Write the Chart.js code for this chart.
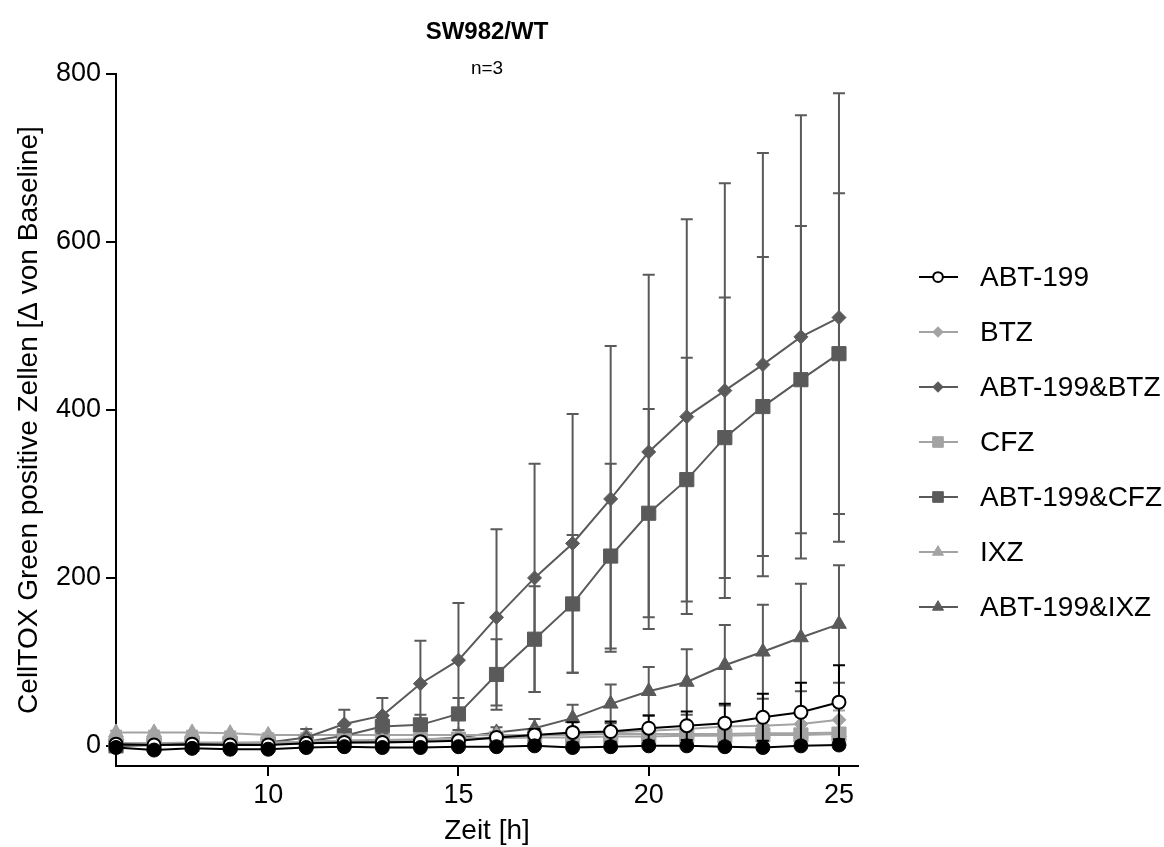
<!DOCTYPE html>
<html>
<head>
<meta charset="utf-8">
<script src="https://cdn.jsdelivr.net/npm/chart.js@4"></script>
<style>
  html, body { margin: 0; padding: 0; background: #fff; }
  #wrap { width: 1164px; height: 847px; }
</style>
</head>
<body>
<div id="wrap"><canvas id="zellenCanvas" width="1164" height="847"></canvas></div>
<script>
// Zeitpunkte [h]
var zeit = [6, 7, 8, 9, 10, 11, 12, 13, 14, 15, 16, 17, 18, 19, 20, 21, 22, 23, 24, 25];

// Mittelwerte je Behandlung
var kontrolle   = [-2, -5, -3, -4, -4, -2, -1, -2, -2, -1, -1, 0, -2, -1, 0, 0, -1, -2, 0, 1];
var abt199      = [2, 1, 2, 1, 1, 3, 4, 4, 5, 6, 10, 13, 16, 17, 21, 24, 27, 34, 40, 52];
var btz         = [3, 3, 4, 4, 4, 5, 6, 7, 8, 9, 10, 12, 14, 16, 18, 20, 23, 24, 26, 31];
var abt199Btz   = [0, 2, 3, 3, 4, 10, 26, 36, 74, 102, 153, 200, 241, 294, 350, 392, 423, 454, 487, 510];
var cfz         = [3, 3, 3, 3, 3, 5, 6, 7, 7, 8, 9, 10, 10, 11, 11, 12, 12, 13, 13, 14];
var abt199Cfz   = [0, 1, 2, 2, 2, 5, 12, 23, 25, 38, 85, 127, 169, 226, 277, 317, 367, 404, 436, 467];
var ixz         = [16, 16, 16, 15, 13, 13, 13, 13, 13, 13, 13, 13, 13, 14, 14, 14, 14, 15, 15, 16];
var abt199Ixz   = [0, 1, 1, 2, 2, 3, 4, 5, 7, 10, 16, 21, 33, 50, 65, 76, 96, 112, 129, 145];

// Standardabweichungen
var kontrolleSd = [1, 1, 1, 1, 1, 1, 1, 1, 1, 1, 1, 1, 1, 1, 1, 1, 1, 1, 1, 1];
var abt199Sd    = [1, 1, 1, 1, 1, 2, 2, 2, 3, 3, 5, 7, 12, 12, 15, 17, 23, 28, 35, 44];
var btzSd       = [1, 1, 1, 1, 1, 1, 2, 2, 2, 2, 3, 3, 4, 4, 5, 6, 7, 8, 9, 11];
var abt199BtzSd = [2, 2, 2, 3, 3, 10, 17, 21, 51, 68, 105, 136, 154, 182, 211, 235, 247, 252, 264, 267];
var cfzSd       = [1, 1, 1, 1, 1, 1, 2, 2, 2, 2, 2, 3, 3, 3, 3, 3, 3, 4, 4, 4];
var abt199CfzSd = [2, 2, 2, 2, 2, 4, 6, 10, 12, 19, 42, 63, 82, 110, 124, 145, 167, 178, 183, 191];
var ixzSd       = [2, 2, 2, 2, 2, 2, 2, 2, 2, 2, 2, 2, 2, 2, 2, 2, 2, 2, 2, 2];
var abt199IxzSd = [1, 1, 1, 1, 1, 2, 2, 2, 3, 4, 6, 11, 16, 23, 29, 39, 48, 56, 64, 70];

var xTicks = [10, 15, 20, 25];
var yTicks = [0, 200, 400, 600, 800];

var dunkel = '#5a5a5a';
var hell = '#a3a3a3';
var schrift = '"Liberation Sans", Arial, Helvetica, sans-serif';

function punkte(werte) {
	return werte.map(function (v, i) { return { x: zeit[i], y: v }; });
}

function serie(label, werte, sd, farbe, stil, radius, fuellung, legende) {
	return {
		label: label,
		data: punkte(werte),
		sd: sd,
		legende: legende,
		borderColor: farbe,
		backgroundColor: fuellung || farbe,
		pointBackgroundColor: fuellung || farbe,
		pointBorderColor: farbe,
		pointBorderWidth: fuellung ? 2 : 1,
		pointStyle: stil,
		pointRadius: radius,
		pointHoverRadius: radius,
		borderWidth: 2,
		tension: 0,
		fill: false,
		clip: false,
	};
}

var dataSets = [
	serie('Kontrolle', kontrolle, kontrolleSd, '#000', 'circle', 7, null, false),
	serie('ABT-199', abt199, abt199Sd, '#000', 'circle', 6.5, '#fff', true),
	serie('BTZ', btz, btzSd, hell, 'rectRot', 7, null, true),
	serie('ABT-199&BTZ', abt199Btz, abt199BtzSd, dunkel, 'rectRot', 7, null, true),
	serie('CFZ', cfz, cfzSd, hell, 'rect', 10, null, true),
	serie('ABT-199&CFZ', abt199Cfz, abt199CfzSd, dunkel, 'rect', 10, null, true),
	serie('IXZ', ixz, ixzSd, hell, 'triangle', 8.5, null, true),
	serie('ABT-199&IXZ', abt199Ixz, abt199IxzSd, dunkel, 'triangle', 8.5, null, true),
];

// Fehlerbalken (SD) unter den Markern der jeweiligen Serie
var fehlerbalken = {
	id: 'fehlerbalken',
	beforeDatasetDraw: function (chart, args) {
		var ds = chart.data.datasets[args.index];
		var ctx = chart.ctx;
		var xs = chart.scales.x, ys = chart.scales.y;
		ctx.save();
		ctx.strokeStyle = ds.borderColor;
		ctx.lineWidth = 2;
		ds.data.forEach(function (p, i) {
			var s = ds.sd[i];
			var px = xs.getPixelForValue(p.x);
			var top = ys.getPixelForValue(p.y + s);
			var bot = ys.getPixelForValue(p.y - s);
			ctx.beginPath();
			ctx.moveTo(px, top); ctx.lineTo(px, bot);
			ctx.moveTo(px - 6, top); ctx.lineTo(px + 6, top);
			ctx.moveTo(px - 6, bot); ctx.lineTo(px + 6, bot);
			ctx.stroke();
		});
		ctx.restore();
	}
};

// Titel und Legende
var beschriftung = {
	id: 'beschriftung',
	afterDraw: function (chart) {
		var ctx = chart.ctx;
		var area = chart.chartArea;
		var mitte = (area.left + area.right) / 2;
		ctx.save();
		ctx.fillStyle = '#000';
		ctx.textAlign = 'center';
		ctx.textBaseline = 'middle';
		ctx.font = 'bold 24px ' + schrift;
		ctx.fillText('SW982/WT', mitte, 32);
		ctx.font = '19px ' + schrift;
		ctx.fillText('n=3', mitte, 69);

		var y = 277;
		chart.data.datasets.forEach(function (ds) {
			if (!ds.legende) return;
			ctx.strokeStyle = ds.borderColor;
			ctx.lineWidth = 2;
			ctx.beginPath();
			ctx.moveTo(919, y); ctx.lineTo(958, y);
			ctx.stroke();
			ctx.fillStyle = ds.pointBackgroundColor;
			ctx.strokeStyle = ds.pointBorderColor;
			ctx.lineWidth = ds.pointBorderWidth;
			Chart.helpers.drawPoint(ctx, {
				pointStyle: ds.pointStyle,
				radius: ds.pointRadius * 0.75,
				borderWidth: ds.pointBorderWidth,
				rotation: 0,
			}, 938, y);
			ctx.fillStyle = '#000';
			ctx.textAlign = 'left';
			ctx.font = '28px ' + schrift;
			ctx.fillText(ds.label, 980, y + 1);
			y += 55;
		});
		ctx.restore();
	}
};

var ctx = document.getElementById('zellenCanvas').getContext('2d');
var chart = new Chart(ctx, {
	type: 'line',
	data: { datasets: dataSets },
	plugins: [fehlerbalken, beschriftung],
	options: {
		responsive: false,
		animation: false,
		events: [],
		layout: { padding: { left: 0, right: 306, top: 74, bottom: 0 } },
		plugins: {
			legend: { display: false },
			tooltip: { enabled: false },
		},
		scales: {
			x: {
				type: 'linear',
				min: 6,
				max: 25.5,
				afterBuildTicks: function (scale) {
					scale.ticks = xTicks.map(function (v) { return { value: v }; });
				},
				afterFit: function (scale) { scale.height = 81; },
				grid: { drawOnChartArea: false, tickLength: 10, color: '#000', lineWidth: 2 },
				border: { color: '#000', width: 2 },
				ticks: { color: '#000', padding: 3, font: { family: schrift, size: 27 } },
				title: {
					display: true,
					text: 'Zeit [h]',
					color: '#000',
					padding: { top: 0, bottom: 0 },
					font: { family: schrift, size: 28, lineHeight: 1.1 },
				},
			},
			y: {
				type: 'linear',
				min: -24,
				max: 800,
				afterBuildTicks: function (scale) {
					scale.ticks = yTicks.map(function (v) { return { value: v }; });
				},
				afterFit: function (scale) { scale.width = 116; },
				grid: { drawOnChartArea: false, tickLength: 10, color: '#000', lineWidth: 2 },
				border: { color: '#000', width: 2 },
				ticks: { color: '#000', padding: 5, font: { family: schrift, size: 27 } },
				title: {
					display: true,
					text: 'CellTOX Green positive Zellen [Δ von Baseline]',
					color: '#000',
					padding: { top: 14, bottom: 0 },
					font: { family: schrift, size: 28, lineHeight: 1.1 },
				},
			},
		},
	},
});
</script>
</body>
</html>
